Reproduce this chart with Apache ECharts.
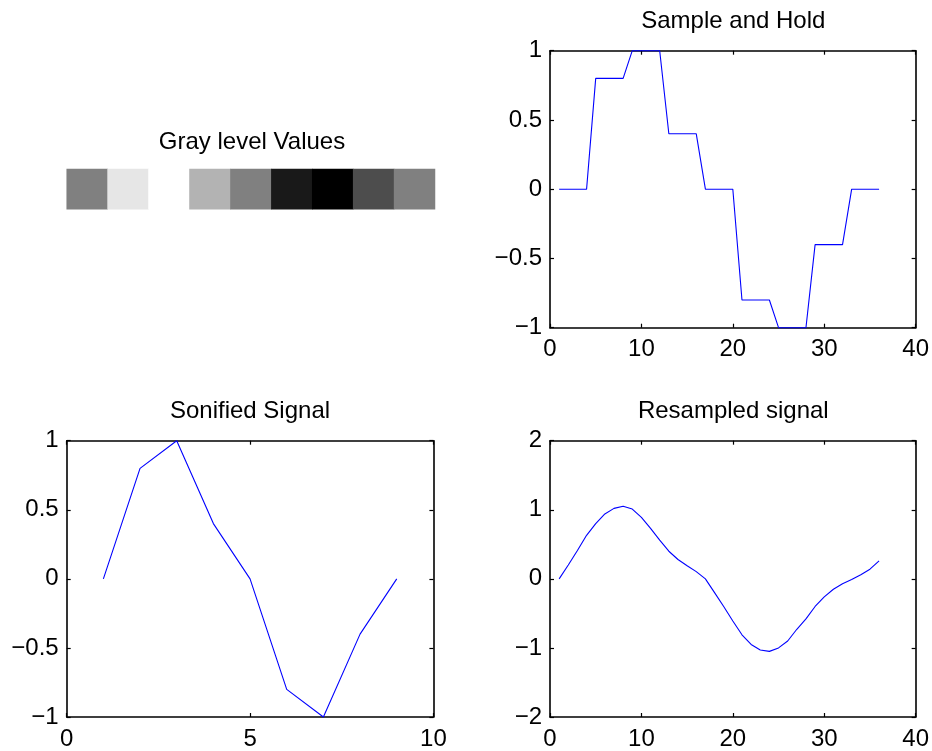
<!DOCTYPE html>
<html>
<head>
<meta charset="utf-8">
<title>Signal plots</title>
<script src="https://cdn.jsdelivr.net/npm/echarts@6/dist/echarts.min.js"></script>
<style>
  html, body { margin: 0; padding: 0; background: #fff; }
  #chart { width: 932px; height: 751px; }
</style>
</head>
<body>
<div id="chart"></div>
<script>
// Gray levels shown as an image strip (value -1 = black, 1 = white)
const grayLevels = [0, 0.8, 1, 0.4, 0, -0.8, -1, -0.4, 0];

// Original signal samples
const sonifiedSignal = [0, 0.8, 1, 0.4, 0, -0.8, -1, -0.4, 0];

// Each sample held for four steps
const sampleHold = [
  0, 0, 0, 0,
  0.8, 0.8, 0.8, 0.8,
  1, 1, 1, 1,
  0.4, 0.4, 0.4, 0.4,
  0, 0, 0, 0,
  -0.8, -0.8, -0.8, -0.8,
  -1, -1, -1, -1,
  -0.4, -0.4, -0.4, -0.4,
  0, 0, 0, 0
];

// Smoothly resampled signal (36 points)
const resampled = [
  0, 0.2, 0.41, 0.63, 0.80, 0.94, 1.02, 1.05, 1.01, 0.89,
  0.73, 0.56, 0.40, 0.28, 0.19, 0.105, 0.0, -0.2, -0.4, -0.61,
  -0.81, -0.95, -1.03, -1.05, -1.0, -0.9, -0.73, -0.58, -0.4, -0.26,
  -0.15, -0.07, -0.01, 0.06, 0.14, 0.26
];

// Axis tick settings
const sampleTicks = { min: 0, max: 40, interval: 10, ymin: -1, ymax: 1, yinterval: 0.5 };
const sonifiedTicks = { min: 0, max: 10, interval: 5, ymin: -1, ymax: 1, yinterval: 0.5 };
const resampledTicks = { min: 0, max: 40, interval: 10, ymin: -2, ymax: 2, yinterval: 1 };

const FONT = "'Liberation Sans', Arial, Helvetica, sans-serif";
const BLUE = '#0000ff';

const chart = echarts.init(document.getElementById('chart'), null, { renderer: 'canvas' });

function fmt(v) {
  return String(v).replace('-', '\u2212');
}

// Builds the four axes (bottom/top, left/right) forming a boxed plot
function boxAxes(gridIndex, t) {
  const line = { show: true, onZero: false, lineStyle: { color: '#000', width: 1.6 } };
  const tick = { show: true, inside: true, length: 4, lineStyle: { color: '#000', width: 1.2 } };
  const label = { show: true, color: '#000', fontSize: 24, fontFamily: FONT, formatter: fmt };
  const x = [
    { type: 'value', gridIndex, position: 'bottom', min: t.min, max: t.max, interval: t.interval,
      axisLine: line, axisTick: tick, axisLabel: Object.assign({ margin: 10 }, label),
      splitLine: { show: false } },
    { type: 'value', gridIndex, position: 'top', min: t.min, max: t.max, interval: t.interval,
      axisLine: line, axisTick: tick, axisLabel: { show: false }, splitLine: { show: false } }
  ];
  const y = [
    { type: 'value', gridIndex, position: 'left', min: t.ymin, max: t.ymax, interval: t.yinterval,
      axisLine: line, axisTick: tick, axisLabel: Object.assign({ margin: 8 }, label),
      splitLine: { show: false } },
    { type: 'value', gridIndex, position: 'right', min: t.ymin, max: t.ymax, interval: t.yinterval,
      axisLine: line, axisTick: tick, axisLabel: { show: false }, splitLine: { show: false } }
  ];
  return { x, y };
}

const grids = [
  { left: 66.7, top: 169, width: 368.3, height: 40.3 },   // gray strip
  { left: 550, top: 50.7, width: 366.7, height: 277 },    // sample and hold
  { left: 66.7, top: 440.7, width: 366.7, height: 277 },  // sonified
  { left: 550, top: 440.7, width: 366.7, height: 277 }    // resampled
];

const a1 = boxAxes(1, sampleTicks);
const a2 = boxAxes(2, sonifiedTicks);
const a3 = boxAxes(3, resampledTicks);

const xAxes = [
  { type: 'category', gridIndex: 0, data: grayLevels.map((_, i) => String(i + 1)), show: false }
].concat(a1.x, a2.x, a3.x);

const yAxes = [
  { type: 'category', gridIndex: 0, data: ['1'], show: false }
].concat(a1.y, a2.y, a3.y);

function lineSeries(axisIdx, values) {
  return {
    type: 'line',
    xAxisIndex: axisIdx,
    yAxisIndex: axisIdx,
    data: values.map((v, i) => [i + 1, v]),
    showSymbol: false,
    symbol: 'none',
    lineStyle: { color: BLUE, width: 1.1 },
    itemStyle: { color: BLUE },
    clip: false,
    silent: true
  };
}

const titles = [
  { text: 'Gray level Values', x: 252, y: 142 },
  { text: 'Sample and Hold', x: 733.3, y: 21 },
  { text: 'Sonified Signal', x: 250, y: 411 },
  { text: 'Resampled signal', x: 733.3, y: 411 }
];

chart.setOption({
  animation: false,
  backgroundColor: '#fff',
  grid: grids,
  xAxis: xAxes,
  yAxis: yAxes,
  visualMap: {
    show: false,
    type: 'continuous',
    seriesIndex: 0,
    min: -1,
    max: 1,
    inRange: { color: ['#000000', '#ffffff'] }
  },
  series: [
    {
      type: 'heatmap',
      xAxisIndex: 0,
      yAxisIndex: 0,
      data: grayLevels.map((v, i) => [i, 0, v]),
      itemStyle: { borderWidth: 0 },
      silent: true
    },
    lineSeries(1, sampleHold),
    lineSeries(3, sonifiedSignal),
    lineSeries(5, resampled)
  ],
  graphic: titles.map(t => ({
    type: 'text',
    x: t.x,
    y: t.y,
    style: {
      text: t.text,
      fill: '#000',
      fontSize: 24,
      fontFamily: FONT,
      align: 'center',
      verticalAlign: 'middle'
    }
  }))
});
</script>
</body>
</html>
